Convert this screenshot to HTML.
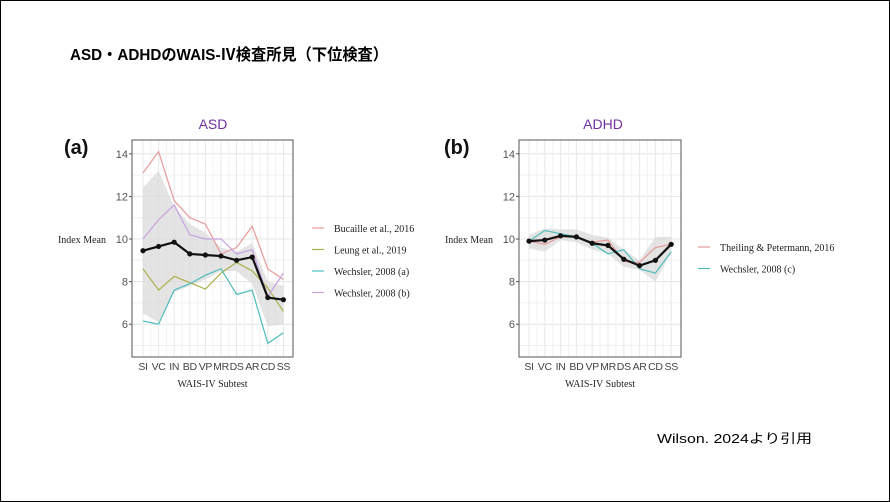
<!DOCTYPE html>
<html><head><meta charset="utf-8"><style>
html,body{margin:0;padding:0;background:#fff}
body{width:890px;height:502px;position:relative;overflow:hidden}
.frame{position:absolute;left:0;top:0;width:888px;height:500px;border:1px solid #000}
svg{position:absolute;left:0;top:0}
</style></head><body>
<div class="frame"></div>
<svg id="s" width="890" height="502" xmlns="http://www.w3.org/2000/svg">
<text x="70" y="60" font-family="Liberation Sans, 'Noto Sans CJK JP', sans-serif" font-weight="bold" font-size="16" fill="#000" textLength="318" lengthAdjust="spacingAndGlyphs">ASD・ADHDのWAIS-Ⅳ検査所見（下位検査）</text>
<text x="213" y="129" font-family="Liberation Sans, sans-serif" font-size="14" fill="#7030a0" text-anchor="middle">ASD</text>
<text x="603" y="129" font-family="Liberation Sans, sans-serif" font-size="14" fill="#7030a0" text-anchor="middle">ADHD</text>
<text x="64" y="154" font-family="Liberation Sans, sans-serif" font-weight="bold" font-size="20" fill="#111">(a)</text>
<text x="444" y="154" font-family="Liberation Sans, sans-serif" font-weight="bold" font-size="20" fill="#111">(b)</text>
<text x="657" y="443" font-family="Liberation Sans, 'Noto Sans CJK JP', sans-serif" font-size="13" fill="#000" textLength="155" lengthAdjust="spacingAndGlyphs">Wilson. 2024より引用</text>
</svg>
<script>
const S=document.getElementById('s'),NS='http://www.w3.org/2000/svg';
function el(t,a,txt){const e=document.createElementNS(NS,t);for(const k in a)e.setAttribute(k,a[k]);if(txt!=null)e.textContent=txt;S.appendChild(e);return e;}
const labs=['SI','VC','IN','BD','VP','MR','DS','AR','CD','SS'];
function Y(v){return 239-(v-10)*21.3;}
function panel(o){
 const X=i=>o.x0+i*o.step;
 el('rect',{x:o.bx,y:140,width:o.bw,height:217,fill:'#fff',stroke:'#555','stroke-width':1});
 for(let v=5;v<=14.5;v+=1){el('line',{x1:o.bx,x2:o.bx+o.bw,y1:Y(v),y2:Y(v),stroke:v%2==0?'#e4e4e4':'#f0f0f0','stroke-width':1});}
 for(let i=0;i<10;i++)el('line',{x1:X(i),x2:X(i),y1:140,y2:357,stroke:'#e8e8e8'});
 for(let i=0;i<9;i++)el('line',{x1:X(i+.5),x2:X(i+.5),y1:140,y2:357,stroke:'#f2f2f2'});
 el('rect',{x:o.bx,y:140,width:o.bw,height:217,fill:'none',stroke:'#555','stroke-width':1});
 [6,8,10,12,14].forEach(v=>{el('text',{x:o.bx-4,y:Y(v)+4,'font-family':'Liberation Sans,sans-serif','font-size':11,fill:'#555','text-anchor':'end'},v);el('line',{x1:o.bx-3,x2:o.bx,y1:Y(v),y2:Y(v),stroke:'#555'});});
 labs.forEach((l,i)=>el('text',{x:X(i),y:370,'font-family':'Liberation Sans,sans-serif','font-size':10.5,fill:'#444','text-anchor':'middle','letter-spacing':'-0.3'},l));
 el('text',{x:o.bx+o.bw/2,y:387,'font-family':'Liberation Serif,serif','font-size':10,fill:'#222','text-anchor':'middle'},'WAIS-IV Subtest');
 el('text',{x:o.bx-26,y:243,'font-family':'Liberation Serif,serif','font-size':10,fill:'#222','text-anchor':'end'},'Index Mean');
 let p=o.up.map((v,i)=>X(i)+','+Y(v)).concat(o.lo.map((v,i)=>X(i)+','+Y(v)).reverse());
 el('polygon',{points:p.join(' '),fill:'#d9d9d9','fill-opacity':.7});
 o.series.forEach(s=>el('polyline',{points:s.d.map((v,i)=>X(i)+','+Y(v)).join(' '),fill:'none',stroke:s.c,'stroke-width':1.2}));
 el('polyline',{points:o.mean.map((v,i)=>X(i)+','+Y(v)).join(' '),fill:'none',stroke:'#111','stroke-width':2.2});
 o.mean.forEach((v,i)=>el('circle',{cx:X(i),cy:Y(v),r:2.6,fill:'#111'}));
 o.series.forEach((s,k)=>{const ly=o.ly+k*o.lstep;el('line',{x1:o.lx,x2:o.lx+12,y1:ly,y2:ly,stroke:s.c,'stroke-width':1.2});
  el('text',{x:o.lx+22,y:ly+4,'font-family':'Liberation Serif,serif','font-size':10,fill:'#222'},s.n);});
}
panel({bx:132,bw:161,x0:143,step:15.6,lx:312,ly:228,lstep:21.5,
 mean:[9.45,9.65,9.85,9.3,9.25,9.2,9.0,9.15,7.25,7.15],
 up:[12.4,13.2,11.5,10.7,10.3,9.6,9.4,9.8,8.0,7.8],
 lo:[6.5,6.1,7.5,7.8,8.1,8.5,8.5,7.9,5.9,6.0],
 series:[{n:'Bucaille et al., 2016',c:'#e59a9a',d:[13.1,14.1,11.8,11.0,10.7,9.3,9.6,10.6,8.6,8.1]},
 {n:'Leung et al., 2019',c:'#aab04a',d:[8.6,7.6,8.25,7.95,7.65,8.4,8.9,8.5,7.7,6.6]},
 {n:'Wechsler, 2008 (a)',c:'#4fbcbc',d:[6.15,6.0,7.6,7.9,8.3,8.6,7.4,7.6,5.1,5.6]},
 {n:'Wechsler, 2008 (b)',c:'#c7a2e2',d:[10.0,10.9,11.6,10.2,10.0,10.0,9.3,9.5,7.3,8.4]}]});
panel({bx:519,bw:162,x0:529,step:15.8,lx:698,ly:247,lstep:21.5,
 mean:[9.9,9.95,10.15,10.1,9.8,9.7,9.05,8.75,9.0,9.75],
 up:[10.2,10.5,10.45,10.45,10.2,10.05,9.5,9.0,10.1,10.1],
 lo:[9.55,9.4,9.95,9.85,9.5,9.3,8.7,8.55,8.0,9.35],
 series:[{n:'Theiling & Petermann, 2016',c:'#e59a9a',d:[9.9,9.75,10.1,10.1,9.85,9.95,8.95,8.9,9.6,9.75]},
 {n:'Wechsler, 2008 (c)',c:'#4fbcbc',d:[9.9,10.4,10.25,10.1,9.8,9.3,9.5,8.6,8.4,9.4]}]});
</script>
</body></html>
